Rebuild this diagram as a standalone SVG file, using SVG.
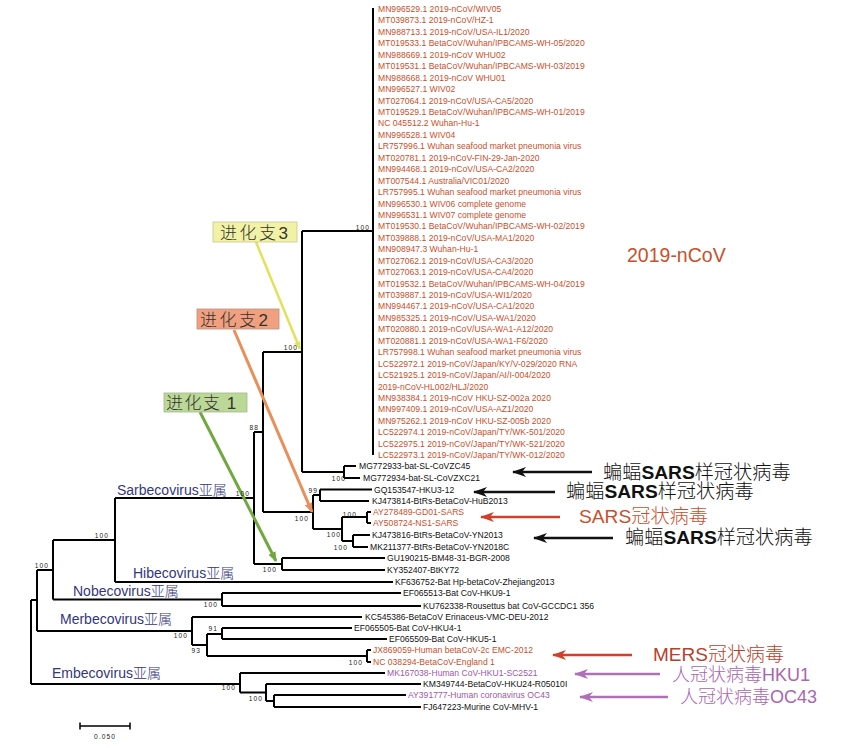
<svg xmlns="http://www.w3.org/2000/svg" width="865" height="748" viewBox="0 0 865 748">
<defs>
<style>
.t{font-family:"Liberation Sans",Arial,sans-serif;font-size:8.6px;fill:#111}
.r{fill:#c8502c}
.p{fill:#9a5aa8}
.b{font-family:"Liberation Sans",Arial,sans-serif;font-size:6.6px;letter-spacing:1.1px;fill:#222}
.br{fill:none;stroke:#000;stroke-width:2}
.sg{font-family:"Liberation Sans",Arial,"Noto Sans CJK SC",sans-serif;font-size:14px;fill:#33367e}
.cj{font-family:"Noto Sans CJK SC",sans-serif;font-weight:300}
.big{font-family:"Liberation Sans",Arial,"Noto Sans CJK SC",sans-serif;font-size:19.2px;fill:#111}
.bx{font-family:"Noto Sans CJK SC","Liberation Sans",sans-serif;font-size:17px;font-weight:300;letter-spacing:2.5px;fill:#333}
</style>
<marker id="ak" viewBox="0 0 14 10" refX="13" refY="5" markerWidth="14" markerHeight="10" markerUnits="userSpaceOnUse" orient="auto"><path d="M0,0 L14,5 L0,10 L4,5 Z" fill="#111"/></marker>
<marker id="ar" viewBox="0 0 14 10" refX="13" refY="5" markerWidth="14" markerHeight="10" markerUnits="userSpaceOnUse" orient="auto"><path d="M0,0 L14,5 L0,10 L4,5 Z" fill="#d0402a"/></marker>
<marker id="ap" viewBox="0 0 14 10" refX="13" refY="5" markerWidth="14" markerHeight="10" markerUnits="userSpaceOnUse" orient="auto"><path d="M0,0 L14,5 L0,10 L4,5 Z" fill="#b070b8"/></marker>
<marker id="ay" viewBox="0 0 10 8" refX="9" refY="4" markerWidth="8" markerHeight="7" markerUnits="userSpaceOnUse" orient="auto"><path d="M0,0 L10,4 L0,8 Z" fill="#e2e25a"/></marker>
<marker id="ao" viewBox="0 0 10 8" refX="9" refY="4" markerWidth="10" markerHeight="8" markerUnits="userSpaceOnUse" orient="auto"><path d="M0,0 L10,4 L0,8 Z" fill="#e8905a"/></marker>
<marker id="ag" viewBox="0 0 10 8" refX="9" refY="4" markerWidth="10" markerHeight="8" markerUnits="userSpaceOnUse" orient="auto"><path d="M0,0 L10,4 L0,8 Z" fill="#70a840"/></marker>
</defs>
<rect width="865" height="748" fill="#fff"/>

<g id="connectors">
<path class="br" d="M31,600V684M31,600H37M37,570V631M37,570H53M53,540V599.5M53,540H115M115,498V582M115,498H254M254,432V564M254,432H263M263,352V512M263,352H302M302,231V472M302,231H373M373,8V455M302,472H344M344,466V478M344,466H356M344,478H360M263,512H313M313,495V529M313,495H320M320,489.5V501M320,489.5H372M320,501H369M313,529H342M342,517V541M342,517H367M367,512V523M367,512H371M367,523H371M342,541H353M353,535V547M353,535H370M353,547H368M254,564H282M282,558V570M282,558H385M282,570H385M115,582H393M53,599.5H222M222,593V606M222,593H401M222,606H421M37,631H192M192,617V645M192,617H362M192,645H207M207,634V656M207,634H222M222,628V639M222,628H352M222,639H387M207,656H367M367,650V662M367,650H371M367,662H371M31,684H240M240,673V692.5M240,673H385M240,692.5H266M266,684V701M266,684H421M266,701H274M274,695V707M274,695H406M274,707H421"/>
<path d="M80,726H130M80,722.5V729.5M130,722.5V729.5" fill="none" stroke="#000" stroke-width="1.5"/>
<line x1="592" y1="472" x2="513" y2="472" stroke="#111" stroke-width="2.5" marker-end="url(#ak)"/>
<line x1="555" y1="492" x2="474" y2="492" stroke="#111" stroke-width="2.5" marker-end="url(#ak)"/>
<line x1="560" y1="517" x2="481" y2="517" stroke="#d0402a" stroke-width="2.5" marker-end="url(#ar)"/>
<line x1="613" y1="538" x2="534" y2="538" stroke="#111" stroke-width="2.5" marker-end="url(#ak)"/>
<line x1="632" y1="655" x2="553" y2="655" stroke="#d0402a" stroke-width="2.5" marker-end="url(#ar)"/>
<line x1="660" y1="674" x2="575" y2="674" stroke="#b070b8" stroke-width="2.5" marker-end="url(#ap)"/>
<line x1="668" y1="697" x2="580" y2="697" stroke="#b070b8" stroke-width="2.5" marker-end="url(#ap)"/>
<line x1="256" y1="242" x2="300" y2="349" stroke="#e2e25a" stroke-width="2.5" marker-end="url(#ay)"/>
<line x1="234" y1="330" x2="312" y2="512" stroke="#e8905a" stroke-width="3" marker-end="url(#ao)"/>
<line x1="200" y1="412" x2="276" y2="561" stroke="#70a840" stroke-width="3" marker-end="url(#ag)"/>
</g>

<g id="ncov-leaves" class="t r">
<text x="378" y="12">MN996529.1 2019-nCoV/WIV05</text>
<text x="378" y="23.4">MT039873.1 2019-nCoV/HZ-1</text>
<text x="378" y="34.9">MN988713.1 2019-nCoV/USA-IL1/2020</text>
<text x="378" y="46.3">MT019533.1 BetaCoV/Wuhan/IPBCAMS-WH-05/2020</text>
<text x="378" y="57.8">MN988669.1 2019-nCoV WHU02</text>
<text x="378" y="69.2">MT019531.1 BetaCoV/Wuhan/IPBCAMS-WH-03/2019</text>
<text x="378" y="80.6">MN988668.1 2019-nCoV WHU01</text>
<text x="378" y="92.1">MN996527.1 WIV02</text>
<text x="378" y="103.5">MT027064.1 2019-nCoV/USA-CA5/2020</text>
<text x="378" y="115">MT019529.1 BetaCoV/Wuhan/IPBCAMS-WH-01/2019</text>
<text x="378" y="126.4">NC 045512.2 Wuhan-Hu-1</text>
<text x="378" y="137.8">MN996528.1 WIV04</text>
<text x="378" y="149.3">LR757996.1 Wuhan seafood market pneumonia virus</text>
<text x="378" y="160.7">MT020781.1 2019-nCoV-FIN-29-Jan-2020</text>
<text x="378" y="172.2">MN994468.1 2019-nCoV/USA-CA2/2020</text>
<text x="378" y="183.6">MT007544.1 Australia/VIC01/2020</text>
<text x="378" y="195">LR757995.1 Wuhan seafood market pneumonia virus</text>
<text x="378" y="206.5">MN996530.1 WIV06 complete genome</text>
<text x="378" y="217.9">MN996531.1 WIV07 complete genome</text>
<text x="378" y="229.4">MT019530.1 BetaCoV/Wuhan/IPBCAMS-WH-02/2019</text>
<text x="378" y="240.8">MT039888.1 2019-nCoV/USA-MA1/2020</text>
<text x="378" y="252.2">MN908947.3 Wuhan-Hu-1</text>
<text x="378" y="263.7">MT027062.1 2019-nCoV/USA-CA3/2020</text>
<text x="378" y="275.1">MT027063.1 2019-nCoV/USA-CA4/2020</text>
<text x="378" y="286.6">MT019532.1 BetaCoV/Wuhan/IPBCAMS-WH-04/2019</text>
<text x="378" y="298">MT039887.1 2019-nCoV/USA-WI1/2020</text>
<text x="378" y="309.4">MN994467.1 2019-nCoV/USA-CA1/2020</text>
<text x="378" y="320.9">MN985325.1 2019-nCoV/USA-WA1/2020</text>
<text x="378" y="332.3">MT020880.1 2019-nCoV/USA-WA1-A12/2020</text>
<text x="378" y="343.8">MT020881.1 2019-nCoV/USA-WA1-F6/2020</text>
<text x="378" y="355.2">LR757998.1 Wuhan seafood market pneumonia virus</text>
<text x="378" y="366.6">LC522972.1 2019-nCoV/Japan/KY/V-029/2020 RNA</text>
<text x="378" y="378.1">LC521925.1 2019-nCoV/Japan/AI/I-004/2020</text>
<text x="378" y="389.5">2019-nCoV-HL002/HLJ/2020</text>
<text x="378" y="401">MN938384.1 2019-nCoV HKU-SZ-002a 2020</text>
<text x="378" y="412.4">MN997409.1 2019-nCoV/USA-AZ1/2020</text>
<text x="378" y="423.8">MN975262.1 2019-nCoV HKU-SZ-005b 2020</text>
<text x="378" y="435.3">LC522974.1 2019-nCoV/Japan/TY/WK-501/2020</text>
<text x="378" y="446.7">LC522975.1 2019-nCoV/Japan/TY/WK-521/2020</text>
<text x="378" y="458.2">LC522973.1 2019-nCoV/Japan/TY/WK-012/2020</text>
</g>

<g id="other-leaves" class="t">
<text x="359" y="469">MG772933-bat-SL-CoVZC45</text>
<text x="363" y="481">MG772934-bat-SL-CoVZXC21</text>
<text x="374" y="492.5">GQ153547-HKU3-12</text>
<text x="372" y="504">KJ473814-BtRs-BetaCoV-HuB2013</text>
<text x="373" y="515" class="r">AY278489-GD01-SARS</text>
<text x="373" y="526" class="r">AY508724-NS1-SARS</text>
<text x="372" y="538">KJ473816-BtRs-BetaCoV-YN2013</text>
<text x="370" y="550">MK211377-BtRs-BetaCoV-YN2018C</text>
<text x="387" y="561">GU190215-BM48-31-BGR-2008</text>
<text x="387" y="573">KY352407-BtKY72</text>
<text x="395" y="585">KF636752-Bat Hp-betaCoV-Zhejiang2013</text>
<text x="403" y="596">EF065513-Bat CoV-HKU9-1</text>
<text x="423" y="609">KU762338-Rousettus bat CoV-GCCDC1 356</text>
<text x="365" y="620">KC545386-BetaCoV Erinaceus-VMC-DEU-2012</text>
<text x="354" y="631">EF065505-Bat CoV-HKU4-1</text>
<text x="389" y="642">EF065509-Bat CoV-HKU5-1</text>
<text x="373" y="653" class="r">JX869059-Human betaCoV-2c EMC-2012</text>
<text x="373" y="665" class="r">NC 038294-BetaCoV-England 1</text>
<text x="387" y="676" class="p">MK167038-Human CoV-HKU1-SC2521</text>
<text x="423" y="687">KM349744-BetaCoV-HKU24-R05010I</text>
<text x="408" y="698" class="p">AY391777-Human coronavirus OC43</text>
<text x="423" y="710">FJ647223-Murine CoV-MHV-1</text>
</g>

<g id="bootstrap" class="b" text-anchor="end">
<text x="370" y="230">100</text>
<text x="298" y="350">100</text>
<text x="259" y="430">88</text>
<text x="250" y="496">100</text>
<text x="318" y="493">99</text>
<text x="309" y="521">100</text>
<text x="341" y="537">100</text>
<text x="348" y="550">100</text>
<text x="357" y="517">100</text>
<text x="346" y="481">100</text>
<text x="277" y="572">100</text>
<text x="109" y="538">100</text>
<text x="49" y="568">100</text>
<text x="218" y="607">100</text>
<text x="188" y="638">100</text>
<text x="218" y="631">91</text>
<text x="201" y="653">93</text>
<text x="363" y="665">100</text>
<text x="236" y="690">100</text>
<text x="263" y="701">100</text>
</g>

<g id="scale"><text x="105" y="739" class="b" text-anchor="middle">0.050</text></g>

<g id="subgenus-labels" class="sg">
<text x="117" y="495">Sarbecovirus<tspan class="cj">亚属</tspan></text>
<text x="133" y="578">Hibecovirus<tspan class="cj">亚属</tspan></text>
<text x="73" y="596">Nobecovirus<tspan class="cj">亚属</tspan></text>
<text x="60" y="624">Merbecovirus<tspan class="cj">亚属</tspan></text>
<text x="52" y="678">Embecovirus<tspan class="cj">亚属</tspan></text>
</g>

<g id="clade-2019-nCoV"><text x="627" y="262" style="font-family:'Liberation Sans',Arial,sans-serif;font-size:19.5px;fill:#c8502c">2019-nCoV</text></g>

<g id="group-labels" class="big">
<text x="603" y="479"><tspan class="cj">蝙蝠</tspan><tspan font-weight="bold">SARS</tspan><tspan class="cj">样冠状病毒</tspan></text>
<text x="566" y="498"><tspan class="cj">蝙蝠</tspan><tspan font-weight="bold">SARS</tspan><tspan class="cj">样冠状病毒</tspan></text>
<text x="579" y="523" style="fill:#c8502c"><tspan>SARS</tspan><tspan class="cj">冠状病毒</tspan></text>
<text x="625" y="544"><tspan class="cj">蝙蝠</tspan><tspan font-weight="bold">SARS</tspan><tspan class="cj">样冠状病毒</tspan></text>
<text x="653" y="661" style="fill:#b8402a;font-size:19px"><tspan>MERS</tspan><tspan class="cj">冠状病毒</tspan></text>
<text x="672" y="681" style="fill:#a866b0;font-size:18px"><tspan class="cj">人冠状病毒</tspan><tspan>HKU1</tspan></text>
<text x="680" y="703" style="fill:#a866b0;font-size:18px"><tspan class="cj">人冠状病毒</tspan><tspan>OC43</tspan></text>
</g>

<g id="clade-box-3"><rect x="213" y="222" width="84" height="20" fill="#f2f2a6" stroke="#c8c890" stroke-width="0.8"/><text x="220" y="238.5" class="bx">进化支<tspan font-family="Liberation Sans">3</tspan></text></g>
<g id="clade-box-2"><rect x="197" y="309" width="82" height="20" fill="#f0a07e" stroke="#c09080" stroke-width="0.8"/><text x="200" y="325.5" class="bx">进化支<tspan font-family="Liberation Sans">2</tspan></text></g>
<g id="clade-box-1"><rect x="164" y="393" width="83" height="19" fill="#bcd896" stroke="#a0b890" stroke-width="0.8"/><text x="166" y="409" class="bx" style="letter-spacing:1.5px">进化支 <tspan font-family="Liberation Sans">1</tspan></text></g>
</svg>
